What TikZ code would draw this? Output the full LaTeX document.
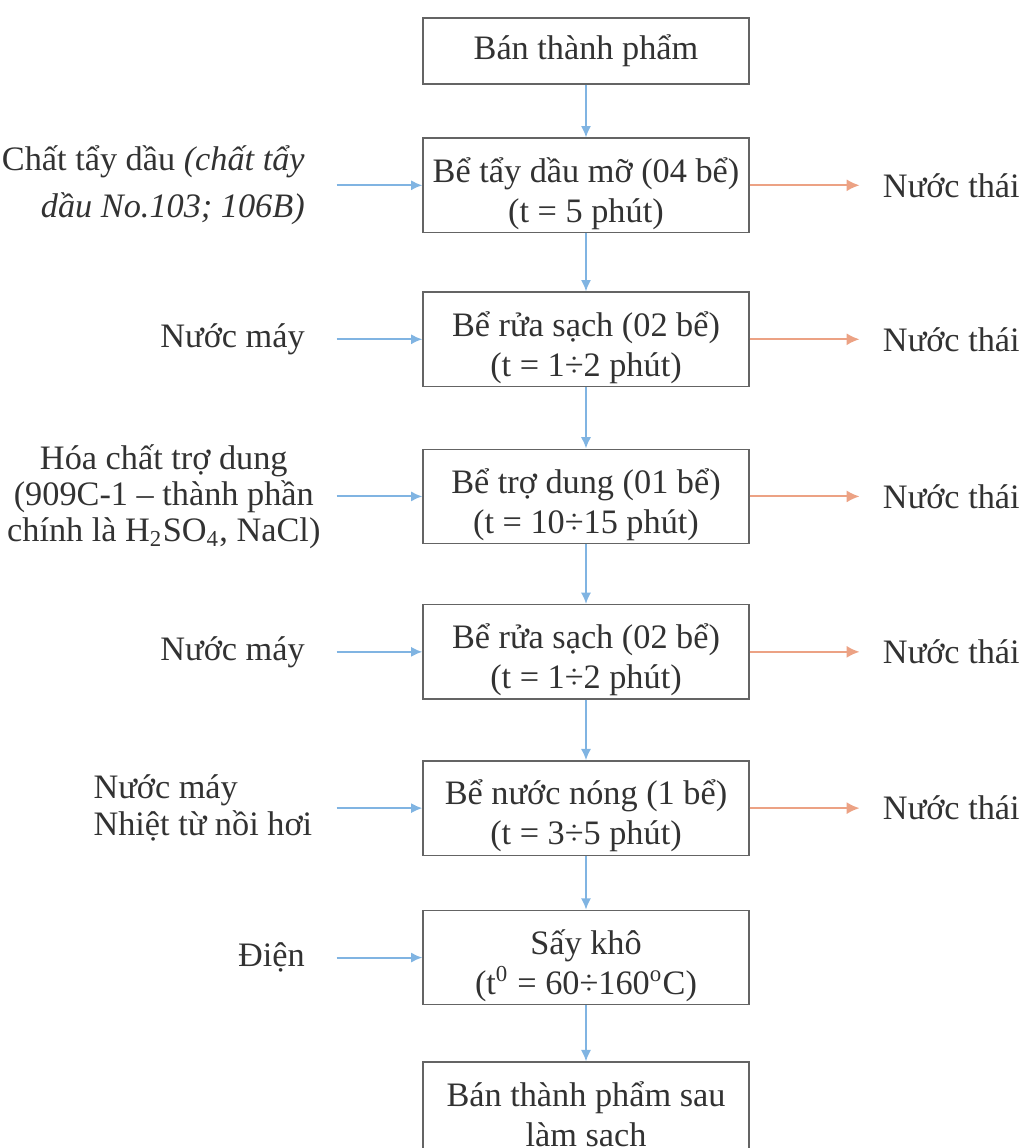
\documentclass[tikz,border=0pt]{standalone}
\usepackage{fontspec}
\setmainfont{Liberation Serif}
\usetikzlibrary{positioning,arrows.meta}

\definecolor{flowblue}{RGB}{128,180,226}
\definecolor{wasteorange}{RGB}{236,162,132}
\definecolor{boxgray}{RGB}{100,100,100}
\definecolor{textgray}{RGB}{50,50,50}

\begin{document}
\begin{tikzpicture}[x=0.35pt, y=-0.35pt, node distance=20.9pt,
                    font=\fontsize{12pt}{14pt}\selectfont, text=textgray,
                    tank/.style={draw=boxgray, line width=0.5pt, minimum width=114pt,
                                 minimum height=33pt, inner sep=2pt, align=center},
                    tank2/.style={tank, text height=27.4pt, text depth=1.6pt},
                    feed/.style={inner sep=0pt, font=\fontsize{12pt}{13pt}\selectfont},
                    feedline/.style={flowblue, line width=0.7pt, -{Latex[length=4pt,width=3.6pt]}},
                    wasteline/.style={wasteorange, line width=0.7pt, -{Latex[length=4.5pt,width=4.2pt]},
                                      shorten >=8pt}]

   \useasboundingbox (0,0) rectangle (1024,1148);

   % process tanks
   \node[tank, minimum height=23pt] (b1) at (586,51) {Bán thành phẩm};
   \node[tank2] (b2) [below=18.5pt of b1] {Bể tẩy dầu mỡ (04 bể)\\(t = 5 phút)};
   \node[tank2] (b3) [below=20.4pt of b2] {Bể rửa sạch (02 bể)\\(t = 1÷2 phút)};
   \node[tank2] (b4) [below=21.5pt of b3] {Bể trợ dung (01 bể)\\(t = 10÷15 phút)};
   \node[tank2] (b5) [below=of b4] {Bể rửa sạch (02 bể)\\(t = 1÷2 phút)};
   \node[tank2] (b6) [below=21.2pt of b5] {Bể nước nóng (1 bể)\\(t = 3÷5 phút)};
   \node[tank2] (b7) [below=18.8pt of b6] {Sấy khô\\(t\textsuperscript{0} = 60÷160\textsuperscript{o}C)};
   \node[tank2] (b8) [below=19.6pt of b7] {Bán thành phẩm sau\\làm sạch};

   % inputs
   \coordinate[left=30pt of b2] (i2);
   \coordinate[left=30pt of b3] (i3);
   \coordinate[left=30pt of b4] (i4);
   \coordinate[left=30pt of b5] (i5);
   \coordinate[left=30pt of b6] (i6);
   \coordinate[left=30pt of b7] (i7);

   \node[feed, align=right, font=\fontsize{12pt}{16.5pt}\selectfont] (in2) [left=11pt of i2]
        {Chất tẩy dầu \textit{(chất tẩy}\\\textit{dầu No.103; 106B)}};
   \node[feed] (in3) [left=11pt of i3] {Nước máy};
   \node[feed, align=center, font=\fontsize{12pt}{12.6pt}\selectfont] (in4) [left=5.5pt of i4]
        {Hóa chất trợ dung\\(909C-1 – thành phần\\chính là H\textsubscript{2}SO\textsubscript{4}, NaCl)};
   \node[feed] (in5) [left=11pt of i5] {Nước máy};
   \node[feed, align=left] (in6) [left=8.4pt of i6] {Nước máy\\Nhiệt từ nồi hơi};
   \node[feed] (in7) [left=11pt of i7] {Điện};

   % outputs
   \node[feed] (w2) [right=46.5pt of b2] {Nước thái};
   \node[feed] (w3) [right=46.5pt of b3] {Nước thái};
   \node[feed] (w4) [right=46.5pt of b4] {Nước thái};
   \node[feed] (w5) [right=46.5pt of b5] {Nước thái};
   \node[feed] (w6) [right=46.5pt of b6] {Nước thái};

  \path[feedline]
    (b1) edge (b2)
    (b2) edge (b3)
    (b3) edge (b4)
    (b4) edge (b5)
    (b5) edge (b6)
    (b6) edge (b7)
    (b7) edge (b8)

    (i2) edge (b2)
    (i3) edge (b3)
    (i4) edge (b4)
    (i5) edge (b5)
    (i6) edge (b6)
    (i7) edge (b7);

  \path[wasteline]
    (b2) edge (w2)
    (b3) edge (w3)
    (b4) edge (w4)
    (b5) edge (w5)
    (b6) edge (w6);

\end{tikzpicture}
\end{document}
